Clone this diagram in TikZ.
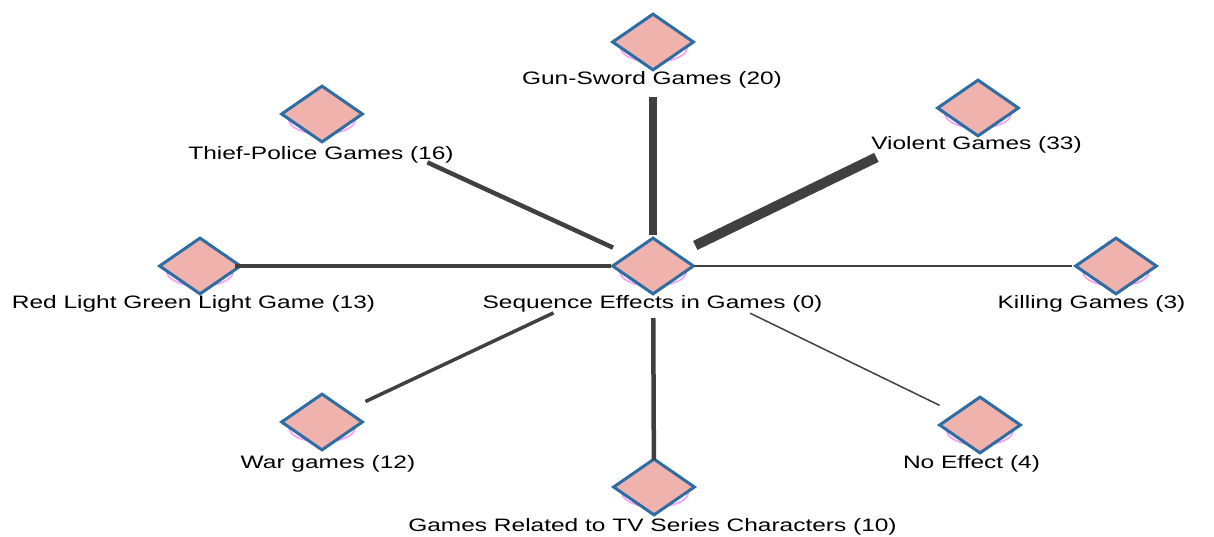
\documentclass[tikz,border=0pt]{standalone}
\usepackage{fontspec}
\setmainfont[FakeStretch=1.36]{Liberation Sans}
\usetikzlibrary{shapes.geometric}
\definecolor{gamefill}{HTML}{F0B2AC}
\definecolor{gameedge}{HTML}{2E6DA4}
\definecolor{linkgray}{HTML}{404040}
\definecolor{halo}{HTML}{F4A6F4}
\tikzset{
  game/.style={diamond, draw=gameedge, fill=gamefill, line width=3pt,
    minimum width=82pt, minimum height=57pt, inner sep=0pt},
  tag/.style={anchor=base, inner sep=0pt, font=\fontsize{18}{20}\selectfont},
  link/.style={draw=linkgray, line cap=butt},
  glow/.style={draw=halo, line width=1.8pt}
}
\begin{document}
\begin{tikzpicture}[x=1pt, y=-1pt]
\useasboundingbox (0,0) rectangle (1214,537);
% soft halos sitting behind each diamond
\foreach \px/\py in {653/266, 654/42, 322/114, 978/108, 200/266, 1116/266, 322/422, 655/487, 980/425}
  \draw[glow] (\px,\py+6) ellipse (33pt and 14pt);
% diamonds
\node[game] (seq)    at (653,266) {};
\node[game] (gun)    at (653,42)  {};
\node[game] (thief)  at (322,114) {};
\node[game] (violent) at (978,108) {};
\node[game] (red)    at (200,266) {};
\node[game] (kill)   at (1116,266) {};
\node[game] (war)    at (322,422) {};
\node[game] (tv)     at (654,487) {};
\node[game] (none)   at (980,425) {};
% labels
\node[tag] (lseq)    at (652.5,308) {Sequence Effects in Games (0)};
\node[tag] (lgun)    at (652,85)   {Gun-Sword Games (20)};
\node[tag] (lthief)  at (321,160)  {Thief-Police Games (16)};
\node[tag] (lviolent) at (976.5,150) {Violent Games (33)};
\node[tag] (lred)    at (193.5,308) {Red Light Green Light Game (13)};
\node[tag] (lkill)   at (1091.5,308) {Killing Games (3)};
\node[tag] (lwar)    at (328,468)  {War games (12)};
\node[tag] (lnone)   at (971.5,468) {No Effect (4)};
\node[tag] (ltv)     at (652.5,531) {Games Related to TV Series Characters (10)};
% links, width by count
\draw[link, line width=10pt, shorten <=47pt, shorten >=113pt] (seq.center) -- (violent.center);
\draw[link, line width=7.5pt, shorten <=31pt, shorten >=55pt] (seq.center) -- (gun.center);
\draw[link, line width=4.5pt, shorten <=44pt, shorten >=116pt] (seq.center) -- (thief.center);
\draw[link, line width=4pt, shorten <=42pt, shorten >=35pt] (seq.center) -- (red.center);
\draw[link, line width=3.5pt, shorten <=110pt, shorten >=48pt] (seq.center) -- (war.center);
\draw[link, line width=4.5pt, shorten <=52pt, shorten >=27pt] (seq.center) -- (tv.center);
\draw[link, line width=1.5pt, shorten <=108pt, shorten >=45pt] (seq.center) -- (none.center);
\draw[link, line width=1.3pt, shorten <=41pt, shorten >=44pt] (seq.center) -- (kill.center);
\end{tikzpicture}
\end{document}
